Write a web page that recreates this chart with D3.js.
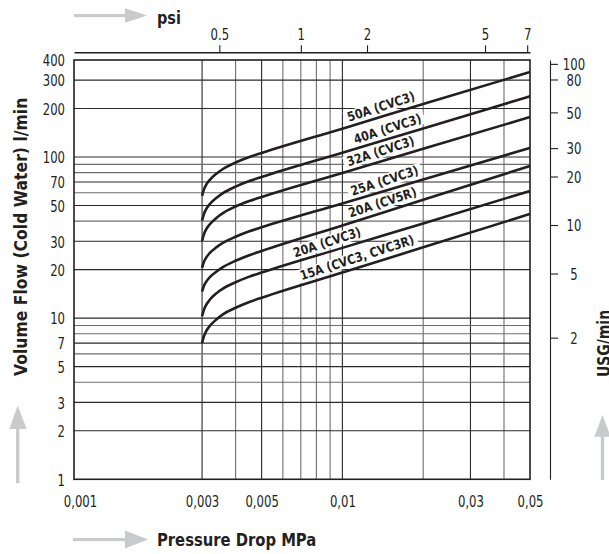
<!DOCTYPE html>
<html><head><meta charset="utf-8">
<script src="https://cdn.jsdelivr.net/npm/d3@7"></script>
<style>body{margin:0;background:#fff}svg{display:block}</style>
</head><body><svg id="c" width="609" height="554"></svg>
<script>
// ---------- data ----------
const pressures = [0.003,0.00305,0.0031,0.0032,0.0034,0.0036,0.004,0.0045,0.005,0.01,0.02,0.05];
const flow50A   = [57.4,63.0,66.8,71.9,79.0,84.6,92.4,100,106,150,213,337];
const flow40A   = [40.3,44.4,47.1,50.8,55.9,59.9,65.5,70.9,75.2,106.4,150.4,238];
const flow32A   = [30.1,33.2,35.3,38.1,42.0,45.0,49.3,53.3,56.5,79.7,112.4,177];
const flow25A   = [20.5,22.4,23.6,25.3,27.6,29.4,32.0,34.6,36.6,51.5,72.5,114];
const flow20A5R = [14.6,15.9,16.7,17.9,19.5,20.8,22.7,24.6,26.1,37.6,54.3,88];
const flow20A   = [10.3,11.3,12.0,12.96,14.3,15.3,16.7,18.1,19.2,27.3,38.7,61.6];
const flow15A   = [7.0,7.74,8.24,8.91,9.85,10.6,11.6,12.6,13.4,19.2,27.5,44.3];
const seriesNames = ["50A (CVC3)","40A (CVC3)","32A (CVC3)","25A (CVC3)","20A (CV5R)","20A (CVC3)","15A (CVC3, CVC3R)"];
const labelPressure = [0.01393,0.01472,0.01387,0.01435,0.0141,0.00876,0.01133];

const xTickValues = [0.001,0.003,0.005,0.01,0.03,0.05];
const xTickLabels = ["0,001","0,003","0,005","0,01","0,03","0,05"];
const xGridValues = [0.003,0.004,0.005,0.006,0.007,0.008,0.009,0.01,0.02,0.03,0.04];
const yTickValues = [1,2,3,5,7,10,20,30,50,70,100,200,300,400];
const yGridValues = [2,3,4,5,6,7,8,9,10,20,30,40,50,60,70,80,90,100,200,300];
const psiTickLabels = ["0.5","1","2","5","7"];
const psiTickPos = [0.00348,0.0070,0.01235,0.0340,0.0488];
const usgTicks = [2,5,10,20,30,50,80,100];
const LPM_PER_USG = 3.785;

const allFlows = [flow50A,flow40A,flow32A,flow25A,flow20A5R,flow20A,flow15A];

// ---------- layout ----------
const L = 74, R = 530, T = 60, B = 479.3;
const svg = d3.select("#c");
const FONT = "DejaVu Sans";
const SXR = 0.73, SXB = 0.85;
const dark = "#231f20";

const x = d3.scaleLog().domain([0.001,0.05]).range([L,R]);
const y = d3.scaleLog().domain([1,400]).range([B,T]);
const yU = d3.scaleLog().domain([1/LPM_PER_USG, 400/LPM_PER_USG]).range([B,T]);

// grid
const labeledX = new Set(xTickValues);
const labeledY = new Set(yTickValues);
svg.append("g").selectAll("line").data(xGridValues).join("line")
  .attr("x1",d=>x(d)).attr("x2",d=>x(d)).attr("y1",T).attr("y2",B)
  .attr("stroke",d=>labeledX.has(d)?"#2a2a2a":"#6e6e6e").attr("stroke-width",1.1);
svg.append("g").selectAll("line").data(yGridValues).join("line")
  .attr("x1",L).attr("x2",R).attr("y1",d=>y(d)).attr("y2",d=>y(d))
  .attr("stroke",d=>labeledY.has(d)?"#2a2a2a":"#6e6e6e").attr("stroke-width",1.1);

// frame
svg.append("rect").attr("x",L).attr("y",T).attr("width",R-L).attr("height",B-T)
  .attr("fill","none").attr("stroke",dark).attr("stroke-width",1.6);

// label boxes + curves
function interpLog(ps, vs, p){
  for(let i=0;i<ps.length-1;i++){
    if(p>=ps[i] && p<=ps[i+1]){
      const t=(Math.log(p)-Math.log(ps[i]))/(Math.log(ps[i+1])-Math.log(ps[i]));
      return Math.exp(Math.log(vs[i])+t*(Math.log(vs[i+1])-Math.log(vs[i])));
    }
  }
  return vs[vs.length-1];
}
const labelG = svg.append("g");
const curveG = svg.append("g");
const textG = svg.append("g");
const line = d3.line().x(d=>x(d[0])).y(d=>y(d[1])).curve(d3.curveMonotoneX);
allFlows.forEach((vals,i)=>{
  curveG.append("path").datum(pressures.map((p,j)=>[p,vals[j]]))
    .attr("d",line).attr("fill","none").attr("stroke",dark).attr("stroke-width",2.6);
  const lp = labelPressure[i];
  const cx = x(lp), cy = y(interpLog(pressures,vals,lp)) - 10.5;
  const g = textG.append("g").attr("transform",`translate(${cx},${cy}) rotate(-18) scale(${SXB},1)`);
  const t = g.append("text").text(seriesNames[i]).attr("font-family",FONT).attr("font-weight","bold")
    .attr("font-size",13).attr("text-anchor","middle").attr("dy","0.36em").attr("fill",dark);
  const bb = t.node().getBBox();
  labelG.append("g").attr("transform",`translate(${cx},${cy}) rotate(-18) scale(${SXB},1)`)
    .append("rect").attr("x",bb.x-4).attr("y",bb.y+1).attr("width",bb.width+8).attr("height",bb.height-2).attr("fill","#fff");
});

// axes
function styleText(sel){ sel.attr("font-family",FONT).attr("font-size",16).attr("fill",dark); }
const xAx = svg.append("g").attr("transform",`translate(0,${B})`)
  .call(d3.axisBottom(x).tickValues(xTickValues).tickFormat((d,i)=>xTickLabels[i]).tickSize(0));
xAx.select(".domain").remove();
xAx.selectAll("text").call(styleText).attr("dy",null).attr("y",27.7)
  .attr("x",(d,i)=>i===0?6/SXR:0).attr("transform",`scale(${SXR},1)`);

const yAx = svg.append("g").attr("transform",`translate(${L},0)`)
  .call(d3.axisLeft(y).tickValues(yTickValues).tickFormat(d3.format("d")).tickSize(0));
yAx.select(".domain").remove();
yAx.selectAll("text").call(styleText).attr("x",-9/SXR).attr("dy","0.36em").attr("transform",`scale(${SXR},1)`);

const topAx = svg.append("g").attr("transform",`translate(0,52.3)`)
  .call(d3.axisTop(x).tickValues(psiTickPos).tickFormat((d,i)=>psiTickLabels[i]).tickSize(7).tickSizeOuter(0));
topAx.select(".domain").attr("stroke",dark).attr("stroke-width",1.5);
topAx.selectAll(".tick line").attr("stroke",dark).attr("stroke-width",1.1);
topAx.selectAll("text").call(styleText).attr("dy",null).attr("y",-12).attr("transform",`scale(${SXR},1)`);

const rAx = svg.append("g").attr("transform",`translate(550,0)`)
  .call(d3.axisRight(yU).tickValues(usgTicks).tickFormat(d3.format("d")).tickSize(8).tickSizeOuter(0));
rAx.select(".domain").attr("stroke",dark).attr("stroke-width",1.1);
rAx.selectAll(".tick line").attr("stroke",dark).attr("stroke-width",1.1);
rAx.selectAll("text").call(styleText).attr("text-anchor","middle").attr("x",24/SXR).attr("dy","0.36em").attr("transform",`scale(${SXR},1)`);

// titles
function bold(txt, tr){
  svg.append("text").text(txt).attr("transform",tr).attr("font-family",FONT).attr("font-weight","bold")
    .attr("font-size",17).attr("fill",dark).attr("text-anchor","start");
}
bold("psi", `translate(157,24) scale(0.85,1)`);
bold("Pressure Drop MPa", `translate(157,546) scale(0.87,1)`);
bold("Volume Flow (Cold Water) l/min", `translate(26.5,376) rotate(-90) scale(0.92,1)`);
bold("USG/min", `translate(610,377) rotate(-90) scale(0.82,1)`);

// arrows
const grey = "#c9cacb";
svg.append("rect").attr("x",74).attr("y",14).attr("width",52).attr("height",3.2).attr("fill",grey);
svg.append("path").attr("d","M125,8.3 L147,15.6 L125,22.8 Z").attr("fill",grey);
svg.append("rect").attr("x",73).attr("y",538).attr("width",53).attr("height",3.2).attr("fill",grey);
svg.append("path").attr("d","M125,530.5 L148,539.6 L125,548.5 Z").attr("fill",grey);
svg.append("rect").attr("x",16).attr("y",427).attr("width",3.4).attr("height",56).attr("fill",grey);
svg.append("path").attr("d","M9.3,429 L17.7,405.5 L26.7,429 Z").attr("fill",grey);
svg.append("rect").attr("x",600.8).attr("y",435).attr("width",3.4).attr("height",45).attr("fill",grey);
svg.append("path").attr("d","M594.3,436.7 L602.5,415 L610.7,436.7 Z").attr("fill",grey);
</script></body></html>
